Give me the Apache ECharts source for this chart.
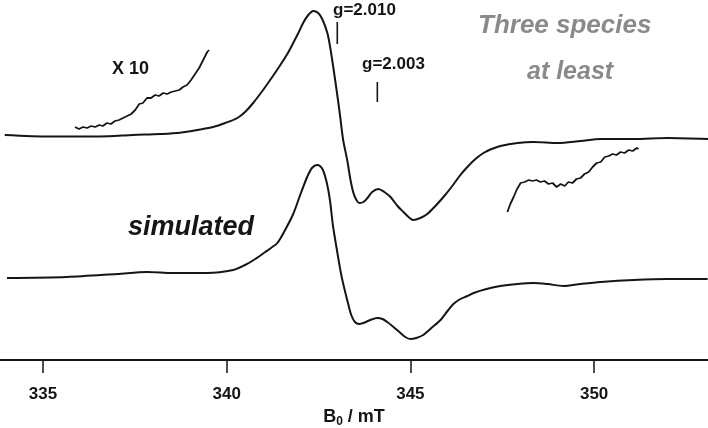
<!DOCTYPE html>
<html><head><meta charset="utf-8">
<script src="https://cdn.jsdelivr.net/npm/echarts@6/dist/echarts.min.js"></script>
<style>html,body{margin:0;padding:0;background:#fff}#c{width:708px;height:428px}</style>
</head><body><div id="c"></div>
<script>
// Field axis (mT)
const tickValues = [335, 340, 345, 350];
const axisMin = 333.83, axisMax = 353.1;

// Experimental spectrum: field B (mT) and intensity (a.u., with vertical offset)
const expB = [333.96,335.19,336.55,337.45,338.19,338.73,339.28,339.63,339.96,340.29,340.50,340.72,340.99,341.24,341.46,341.65,341.81,341.95,342.08,342.22,342.36,342.49,342.60,342.74,342.82,342.90,343.01,343.09,343.17,343.28,343.37,343.45,343.53,343.61,343.72,343.83,343.96,344.13,344.29,344.46,344.65,344.81,344.95,345.08,345.27,345.46,345.68,345.90,346.14,346.36,346.55,346.77,346.99,347.21,347.45,347.92,348.35,349.01,349.63,350.18,351.08,352.00,353.12];
const expI = [225,223.5,223.5,225,226,227.3,230.5,233,237,242,248,257,270,283,295,306,317,327,337,345,349,347,341,327,312,293,265,243,220,200,180,167,160,157,158,162,168,171,168,163,154,148,143,140,142,146,154,163,174,185,193,201,207,211,214,217,218,217,219,221,221,222,221];

// Simulated spectrum
const simB = [334.02,335.65,337.02,337.83,338.54,339.47,340.18,340.50,340.78,341.05,341.24,341.38,341.59,341.81,342.00,342.19,342.32,342.46,342.54,342.62,342.72,342.81,342.89,343.00,343.13,343.28,343.39,343.49,343.60,343.72,343.91,344.10,344.24,344.37,344.54,344.73,344.86,345.00,345.16,345.35,345.57,345.82,346.01,346.17,346.36,346.55,346.72,347.07,347.45,347.92,348.35,348.73,349.17,349.63,350.18,351.08,352.00,353.09];
const simI = [82,83,86,88,87,87,90,95,101,108,113,117,130,146,165,183,192,195,194,190,178,160,135,110,83,60,45,38,36,37,40,42,41,38,33,27,23,21,22,25,32,40,49,56,61,64,67,71,74,76,77,76,74,76,78,80,81,81];

// x10 expanded insets
const insetLB = [335.87,335.98,336.09,336.20,336.31,336.42,336.53,336.63,336.74,336.85,336.96,337.07,337.18,337.29,337.40,337.51,337.62,337.72,337.83,337.94,338.05,338.16,338.27,338.38,338.49,338.60,338.71,338.81,338.92,339.03,339.14,339.25,339.36,339.47,339.52];
const insetLI = [233,231,233,232,234,233,235,234,237,236,239,240,242,244,246,250,256,257,262,262,265,264,267,266,268,269,270,273,275,280,286,292,300,308,310];
const insetRB = [347.64,347.72,347.81,347.89,348.00,348.11,348.22,348.32,348.43,348.54,348.65,348.76,348.87,348.98,349.09,349.20,349.30,349.41,349.52,349.63,349.74,349.85,349.96,350.07,350.18,350.29,350.40,350.50,350.61,350.72,350.83,350.94,351.05,351.16,351.21];
const insetRI = [148,156,163,170,177,178,180,179,180,178,179,176,177,173,176,174,178,177,181,182,186,188,193,197,198,203,204,206,205,208,207,210,209,212,211];

// g-value markers: field, bottom and top of the tick
const gLabels = ['g=2.010', 'g=2.003'];
const gField = [343.01, 344.10];
const gLow = [316, 258];
const gHigh = [338, 278];

const zip = (a, b) => a.map((v, i) => [v, b[i]]);
const FONT = '"Liberation Sans",Arial,sans-serif';
const INK = '#151515';

const series = [
  {type:'line', data: zip(expB, expI), smooth: 0.3, symbol:'none', lineStyle:{color:INK, width:2}},
  {type:'line', data: zip(simB, simI), smooth: 0.3, symbol:'none', lineStyle:{color:INK, width:2}},
  {type:'line', data: zip(insetLB, insetLI), symbol:'none', lineStyle:{color:INK, width:1.8}},
  {type:'line', data: zip(insetRB, insetRI), symbol:'none', lineStyle:{color:INK, width:1.8}}
];
gField.forEach((b, i) => series.push({
  type:'line', data:[[b, gLow[i]],[b, gHigh[i]]], symbol:'none', lineStyle:{color:INK, width:1.6}
}));

const chart = echarts.init(document.getElementById('c'), null, {renderer:'canvas'});
chart.setOption({
  animation:false,
  grid:{left:0, right:0, top:0, bottom:68, containLabel:false, outerBoundsMode:'none'},
  xAxis:{
    type:'value', min:axisMin, max:axisMax,
    axisLine:{show:true, lineStyle:{color:INK, width:2}},
    axisTick:{show:true, length:13, lineStyle:{color:INK, width:1.5}, customValues: tickValues},
    axisLabel:{show:true, margin:26, fontFamily:FONT, fontWeight:'bold', fontSize:17, color:INK, customValues: tickValues},
    splitLine:{show:false},
    name:'{b|B}{s|0}{b| / mT}', nameLocation:'middle', nameGap:47,
    nameTextStyle:{rich:{
      b:{fontFamily:FONT, fontWeight:'bold', fontSize:18, color:INK},
      s:{fontFamily:FONT, fontWeight:'bold', fontSize:12, color:INK, verticalAlign:'bottom', padding:[9,0,0,0]}
    }}
  },
  yAxis:{type:'value', min:0, max:360, show:false, splitLine:{show:false}},
  series: series,
  graphic:[
    {type:'text', left:112, top:60, style:{text:'X 10', font:'bold 18px "Liberation Sans",Arial,sans-serif', fill:INK}},
    {type:'text', left:333, top:2, style:{text:gLabels[0], font:'bold 17px "Liberation Sans",Arial,sans-serif', fill:INK}},
    {type:'text', left:362, top:56, style:{text:gLabels[1], font:'bold 17px "Liberation Sans",Arial,sans-serif', fill:INK}},
    {type:'text', left:478, top:13, style:{text:'Three species', font:'italic bold 26px "Liberation Sans",Arial,sans-serif', fill:'#8a8a8a'}},
    {type:'text', left:527, top:60, style:{text:'at least', font:'italic bold 25px "Liberation Sans",Arial,sans-serif', fill:'#8a8a8a'}},
    {type:'text', left:128, top:214, style:{text:'simulated', font:'italic bold 27px "Liberation Sans",Arial,sans-serif', fill:INK}}
  ]
});
</script></body></html>
